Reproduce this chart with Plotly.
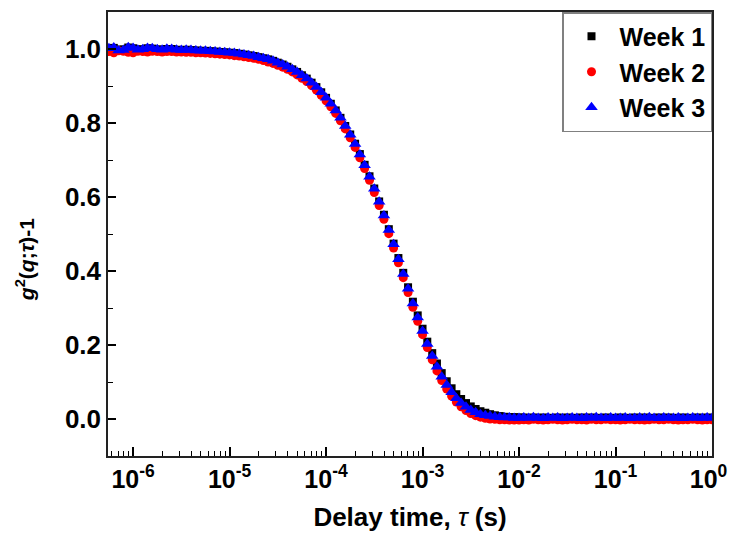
import plotly.graph_objects as go

# Delay time tau (s), 20 channels per decade
tau = [
    5.62e-7, 6.31e-7, 7.08e-7, 7.94e-7, 8.91e-7,
    1.00e-6, 1.12e-6, 1.26e-6, 1.41e-6, 1.58e-6, 1.78e-6, 2.00e-6, 2.24e-6, 2.51e-6, 2.82e-6,
    3.16e-6, 3.55e-6, 3.98e-6, 4.47e-6, 5.01e-6, 5.62e-6, 6.31e-6, 7.08e-6, 7.94e-6, 8.91e-6,
    1.00e-5, 1.12e-5, 1.26e-5, 1.41e-5, 1.58e-5, 1.78e-5, 2.00e-5, 2.24e-5, 2.51e-5, 2.82e-5,
    3.16e-5, 3.55e-5, 3.98e-5, 4.47e-5, 5.01e-5, 5.62e-5, 6.31e-5, 7.08e-5, 7.94e-5, 8.91e-5,
    1.00e-4, 1.12e-4, 1.26e-4, 1.41e-4, 1.58e-4, 1.78e-4, 2.00e-4, 2.24e-4, 2.51e-4, 2.82e-4,
    3.16e-4, 3.55e-4, 3.98e-4, 4.47e-4, 5.01e-4, 5.62e-4, 6.31e-4, 7.08e-4, 7.94e-4, 8.91e-4,
    1.00e-3, 1.12e-3, 1.26e-3, 1.41e-3, 1.58e-3, 1.78e-3, 2.00e-3, 2.24e-3, 2.51e-3, 2.82e-3,
    3.16e-3, 3.55e-3, 3.98e-3, 4.47e-3, 5.01e-3, 5.62e-3, 6.31e-3, 7.08e-3, 7.94e-3, 8.91e-3,
    1.00e-2, 1.12e-2, 1.26e-2, 1.41e-2, 1.58e-2, 1.78e-2, 2.00e-2, 2.24e-2, 2.51e-2, 2.82e-2,
    3.16e-2, 3.55e-2, 3.98e-2, 4.47e-2, 5.01e-2, 5.62e-2, 6.31e-2, 7.08e-2, 7.94e-2, 8.91e-2,
    1.00e-1, 1.12e-1, 1.26e-1, 1.41e-1, 1.58e-1, 1.78e-1, 2.00e-1, 2.24e-1, 2.51e-1, 2.82e-1,
    3.16e-1, 3.55e-1, 3.98e-1, 4.47e-1, 5.01e-1, 5.62e-1, 6.31e-1, 7.08e-1, 7.94e-1, 8.91e-1,
    1.00e0,
]

week1 = [
    1.001, 1.003, 0.998, 0.999, 1.004,
    1.002, 0.999, 0.999, 1.002, 1.001, 0.999, 0.998, 1.000, 1.000, 0.998,
    0.997, 0.998, 0.997, 0.996, 0.995, 0.995, 0.994, 0.993, 0.992, 0.991,
    0.990, 0.989, 0.987, 0.985, 0.983, 0.981, 0.978, 0.975, 0.972, 0.968,
    0.963, 0.958, 0.952, 0.945, 0.938, 0.929, 0.920, 0.909, 0.897, 0.883,
    0.868, 0.852, 0.834, 0.814, 0.792, 0.769, 0.744, 0.716, 0.687, 0.656,
    0.623, 0.588, 0.552, 0.513, 0.474, 0.435, 0.395, 0.356, 0.317, 0.280,
    0.244, 0.209, 0.178, 0.150, 0.124, 0.102, 0.083, 0.067, 0.054, 0.043,
    0.034, 0.027, 0.021, 0.017, 0.013, 0.010, 0.008, 0.006, 0.005, 0.005,
    0.004, 0.004, 0.003, 0.004, 0.003, 0.004, 0.003, 0.003, 0.004, 0.003,
    0.004, 0.003, 0.003, 0.004, 0.003, 0.004, 0.003, 0.003, 0.004, 0.003,
    0.003, 0.004, 0.003, 0.003, 0.004, 0.003, 0.004, 0.003, 0.003, 0.004,
    0.003, 0.004, 0.003, 0.003, 0.004, 0.003, 0.003, 0.004, 0.003, 0.004,
    0.003,
]

week2 = [
    0.993, 0.990, 0.995, 0.994, 0.991,
    0.990, 0.994, 0.993, 0.992, 0.994, 0.993, 0.992, 0.993, 0.993, 0.992,
    0.992, 0.991, 0.991, 0.990, 0.990, 0.989, 0.988, 0.987, 0.986, 0.985,
    0.984, 0.982, 0.981, 0.979, 0.977, 0.975, 0.972, 0.969, 0.965, 0.961,
    0.956, 0.951, 0.945, 0.938, 0.930, 0.921, 0.912, 0.901, 0.889, 0.875,
    0.860, 0.844, 0.826, 0.806, 0.784, 0.760, 0.734, 0.706, 0.677, 0.645,
    0.612, 0.577, 0.540, 0.501, 0.462, 0.422, 0.382, 0.342, 0.302, 0.264,
    0.228, 0.193, 0.160, 0.130, 0.104, 0.081, 0.062, 0.046, 0.033, 0.023,
    0.015, 0.009, 0.005, 0.002, 0.000, -0.001, -0.002, -0.002, -0.003, -0.003,
    -0.003, -0.002, -0.003, -0.001, -0.002, -0.003, -0.002, -0.001, -0.002, -0.003,
    -0.002, -0.001, -0.002, -0.002, -0.003, -0.001, -0.002, -0.002, -0.001, -0.002,
    -0.002, -0.003, -0.002, -0.001, -0.002, -0.002, -0.003, -0.002, -0.001, -0.002,
    -0.002, -0.001, -0.002, -0.003, -0.002, -0.002, -0.001, -0.002, -0.003, -0.002,
    -0.002,
]

week3 = [
    1.002, 1.004, 0.996, 0.997, 1.005,
    1.003, 0.998, 0.999, 1.003, 1.002, 0.999, 0.998, 1.001, 1.000, 0.998,
    0.997, 0.998, 0.997, 0.996, 0.995, 0.995, 0.994, 0.993, 0.992, 0.991,
    0.990, 0.989, 0.987, 0.985, 0.983, 0.981, 0.978, 0.975, 0.972, 0.968,
    0.963, 0.958, 0.952, 0.945, 0.938, 0.929, 0.920, 0.909, 0.897, 0.883,
    0.868, 0.852, 0.834, 0.814, 0.792, 0.768, 0.743, 0.715, 0.686, 0.655,
    0.622, 0.587, 0.550, 0.511, 0.472, 0.432, 0.392, 0.352, 0.312, 0.274,
    0.238, 0.203, 0.170, 0.141, 0.114, 0.092, 0.072, 0.056, 0.043, 0.033,
    0.024, 0.018, 0.013, 0.010, 0.008, 0.006, 0.005, 0.004, 0.004, 0.003,
    0.003, 0.004, 0.003, 0.005, 0.003, 0.002, 0.004, 0.003, 0.004, 0.002,
    0.003, 0.004, 0.003, 0.002, 0.004, 0.003, 0.005, 0.003, 0.002, 0.004,
    0.003, 0.003, 0.004, 0.002, 0.003, 0.004, 0.003, 0.005, 0.003, 0.002,
    0.004, 0.003, 0.003, 0.004, 0.002, 0.003, 0.004, 0.003, 0.003, 0.004,
    0.003,
]

x_tick_vals = [1e-6, 1e-5, 1e-4, 1e-3, 1e-2, 1e-1, 1e0]
x_tick_text = ["10<sup>-6</sup>", "10<sup>-5</sup>", "10<sup>-4</sup>", "10<sup>-3</sup>",
               "10<sup>-2</sup>", "10<sup>-1</sup>", "10<sup>0</sup>&nbsp;"]

minor_vals = [m * 10.0 ** e for e in range(-7, 0) for m in range(2, 10)]

FONT = "Liberation Sans, Arial, sans-serif"

fig = go.Figure()
fig.add_trace(go.Scatter(x=tau, y=week1, mode="markers", name="Week 1",
                         marker=dict(symbol="square", size=8, color="black", line=dict(width=0))))
fig.add_trace(go.Scatter(x=tau, y=week2, mode="markers", name="Week 2",
                         marker=dict(symbol="circle", size=9, color="#ff0000", line=dict(width=0))))
fig.add_trace(go.Scatter(x=tau, y=week3, mode="markers", name="Week 3",
                         marker=dict(symbol="triangle-up", size=11, color="#0000ff", line=dict(width=0))))

fig.update_layout(
    width=733, height=546,
    margin=dict(l=108, r=21, t=12, b=90, autoexpand=False),
    paper_bgcolor="white", plot_bgcolor="white",
    font=dict(family=FONT, size=24, color="black"),
    showlegend=True,
    legend=dict(x=1.0, y=1.0, xanchor="right", yanchor="top",
                bordercolor="#808080", borderwidth=1.5, bgcolor="white",
                font=dict(family=FONT, size=25, color="black", weight="bold"),
                itemsizing="trace", itemwidth=46, tracegroupgap=0),
    annotations=[dict(
        text="<b><i>g</i><sup>2</sup>(<i>q</i>;<i>τ</i>)-1</b>",
        xref="paper", yref="paper", x=0, y=0.441, xshift=-83,
        xanchor="center", yanchor="middle", textangle=-90, showarrow=False,
        font=dict(family=FONT, size=21, color="black"),
    )],
)

fig.update_xaxes(
    type="log", range=[-6.26, 0.0], automargin=False,
    tickmode="array", tickvals=x_tick_vals, ticktext=x_tick_text,
    ticklabeloverflow="allow",
    ticks="inside", ticklen=9, tickwidth=1.5, tickcolor="black",
    showline=True, linecolor="#222", linewidth=1.5, mirror=True,
    showgrid=False, zeroline=False,
    tickfont=dict(family=FONT, size=25, weight="bold"),
    minor=dict(tickmode="array", tickvals=minor_vals, ticks="inside", ticklen=5,
               tickwidth=1.2, tickcolor="black", showgrid=False),
    title=dict(text="<b>Delay time, </b><i>τ</i><b> (s)</b>", font=dict(family=FONT, size=26), standoff=16),
)

fig.update_yaxes(
    range=[-0.1, 1.1], automargin=False,
    tickmode="linear", tick0=0, dtick=0.2, tickformat=".1f",
    ticks="inside", ticklen=8, tickwidth=1.5, tickcolor="black",
    showline=True, linecolor="#222", linewidth=1.5, mirror=True,
    showgrid=False, zeroline=False,
    tickfont=dict(family=FONT, size=26, weight="bold"),
    minor=dict(tick0=0.1, dtick=0.2, ticks="inside", ticklen=5, tickwidth=1.2,
               tickcolor="black", showgrid=False),
)

fig.write_html("out.html", config={"displayModeBar": False},
               post_script="document.body.style.margin='0';")
